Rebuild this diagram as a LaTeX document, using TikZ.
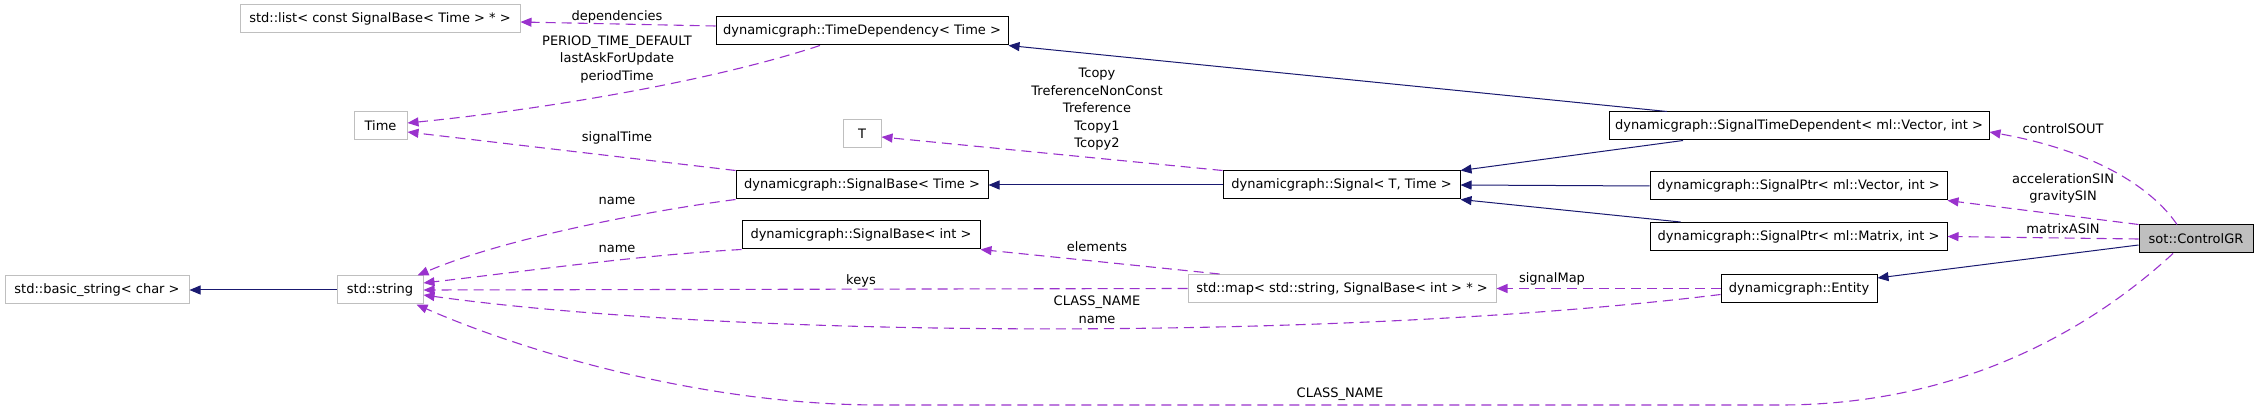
\documentclass[tikz,border=0pt]{standalone}
\usepackage{fontspec}
\setmainfont{DejaVu Sans}
\usetikzlibrary{arrows.meta}
\definecolor{inhblue}{HTML}{191970}
\definecolor{usepurple}{HTML}{9A32CD}
\definecolor{boxgray}{HTML}{BFBFBF}

\begin{document}
\begin{tikzpicture}[x=1pt, y=-1pt, font=\fontsize{13}{17.5}\selectfont,
    cls/.style={draw=black, line width=1pt, fill=white, minimum height=28pt, inner xsep=0pt},
    ext/.style={cls, draw=boxgray},
    inherit/.style={draw=inhblue, line width=1pt, -{Triangle[length=11pt,width=9pt]}},
    uses/.style={draw=usepurple, line width=1.1pt, dash pattern=on 10pt off 6pt, -{Triangle[length=11pt,width=9pt]}},
    lbl/.style={align=center, inner sep=0pt}
]
    \useasboundingbox (0,0) rectangle (2259,411);

    % classes
    \node[ext, minimum width=280pt] (lst)    at (380,19)    {std::list< const SignalBase< Time > * >};
    \node[cls, minimum width=292pt] (tdep)   at (862,31)    {dynamicgraph::TimeDependency< Time >};
    \node[ext, minimum width=53pt]  (time)   at (380.5,126) {Time};
    \node[ext, minimum width=38pt]  (tt)     at (862,133.5) {T};
    \node[cls, minimum width=252pt] (sbtime) at (862,185)   {dynamicgraph::SignalBase< Time >};
    \node[cls, minimum width=237pt] (sig)    at (1341.5,185) {dynamicgraph::Signal< T, Time >};
    \node[cls, minimum width=380pt] (stdep)  at (1799,126)  {dynamicgraph::SignalTimeDependent< ml::Vector, int >};
    \node[cls, minimum width=297pt] (pvec)   at (1798.5,186) {dynamicgraph::SignalPtr< ml::Vector, int >};
    \node[cls, minimum width=297pt] (pmat)   at (1798.5,236.5) {dynamicgraph::SignalPtr< ml::Matrix, int >};
    \node[cls, minimum width=114pt, fill=boxgray] (cgr) at (2196,239) {sot::ControlGR};
    \node[cls, minimum width=156pt] (ent)    at (1799,288.5) {dynamicgraph::Entity};
    \node[ext, minimum width=308pt] (smap)   at (1342,288.5) {std::map< std::string, SignalBase< int > * >};
    \node[cls, minimum width=238pt] (sbint)  at (861,235)   {dynamicgraph::SignalBase< int >};
    \node[ext, minimum width=86pt]  (str)    at (380,290)   {std::string};
    \node[ext, minimum width=184pt] (bstr)   at (97,290)    {std::basic\_string< char >};

    % inheritance
    \draw[inherit] (str.west) -- (bstr.east);
    \draw[inherit] (sig.west) -- (sbtime.east);
    \draw[inherit] ([xshift=-132pt]stdep.north) -- (tdep.south east);
    \draw[inherit] ([xshift=-116pt]stdep.south) -- (sig.north east);
    \draw[inherit] (pvec.west) -- (sig.east);
    \draw[inherit] ([xshift=-118pt]pmat.north) -- (sig.south east);
    \draw[inherit] ([yshift=-6pt]cgr.west) -- ([yshift=10.5pt]ent.east);

    % members
    \draw[uses] ([yshift=5pt]tdep.west) -- ([yshift=-3pt]lst.east);
    \draw[uses] ([xshift=-42pt]tdep.south) .. controls (700,85) and (520,112) .. ([yshift=3pt]time.east);
    \draw[uses] (sbtime.north west) -- ([yshift=-6pt]time.east);
    \draw[uses] (sig.north west) -- ([yshift=-3.5pt]tt.east);
    \draw[uses] (sbtime.south west) .. controls (640,212) and (500,240) .. ([xshift=-6pt]str.north east);
    \draw[uses] (sbint.south west) .. controls (640,255) and (520,272) .. ([yshift=7pt]str.east);
    \draw[uses] (smap.west) -- (str.east);
    \draw[uses] ([yshift=-6pt]ent.west) .. controls (1350,340) and (750,340) .. ([yshift=-5pt]str.east);
    \draw[uses] ([xshift=-23pt]cgr.south) .. controls (2090,330) and (1960,405) .. (1780,405)
        -- (880,405) .. controls (700,405) and (520,350) .. ([xshift=-7pt]str.south east);
    \draw[uses] ([xshift=32pt]smap.north west) -- (sbint.south east);
    \draw[uses] (ent.west) -- (smap.east);
    \draw[uses] (cgr.west) -- (pmat.east);
    \draw[uses] (cgr.north west) -- (pvec.south east);
    \draw[uses] ([xshift=-19pt]cgr.north) .. controls (2150,185) and (2090,150) .. ([yshift=-6pt]stdep.east);

    % labels
    \node[lbl] (ldep)   at (617,17)    {dependencies};
    \node[lbl] (lper)   at (617,59.5)  {PERIOD\_TIME\_DEFAULT\\lastAskForUpdate\\periodTime};
    \node[lbl] (lsigt)  at (617,138)   {signalTime};
    \node[lbl] (lname)  at (617,201)   {name};
    \node[lbl] (lnamei) at (617,249)   {name};
    \node[lbl] (lkeys)  at (861,281)   {keys};
    \node[lbl] (lcls)   at (1097,310)  {CLASS\_NAME\\name};
    \node[lbl] (lclsb)  at (1340,394)  {CLASS\_NAME};
    \node[lbl] (lelem)  at (1097,247)  {elements};
    \node[lbl] (ltcp)   at (1097,109.5) {Tcopy\\TreferenceNonConst\\Treference\\Tcopy1\\Tcopy2};
    \node[lbl] (lsmap)  at (1552,279)  {signalMap};
    \node[lbl] (lctl)   at (2063,129)  {controlSOUT};
    \node[lbl] (lacc)   at (2063,188.5) {accelerationSIN\\gravitySIN};
    \node[lbl] (lmat)   at (2063,229)  {matrixASIN};
\end{tikzpicture}
\end{document}
